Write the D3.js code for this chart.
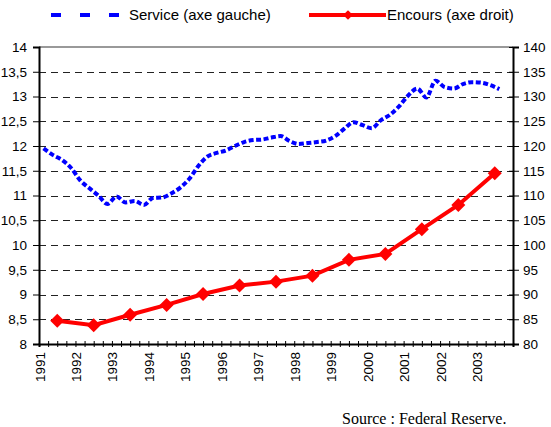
<!DOCTYPE html>
<html lang="fr">
<head>
<meta charset="utf-8">
<title>Service et encours</title>
<script src="https://cdn.jsdelivr.net/npm/d3@7"></script>
<style>
  body { margin: 0; background: #fff; }
  svg { font-family: "Liberation Sans", Arial, sans-serif; }
  .grid line { stroke: #222; stroke-width: 1px; stroke-dasharray: 7,5; }
  .axis text { font-size: 13.5px; fill: #000; }
</style>
</head>
<body>
<svg width="551" height="427"></svg>
<script>
// service de la dette (axe gauche), trimestriel 1991T1 -> 2003T3
var service = [11.95, 11.82, 11.72, 11.56, 11.31, 11.15, 11.00, 10.83, 10.98, 10.86,
  10.89, 10.81, 10.95, 10.96, 11.04, 11.16, 11.34, 11.60, 11.79, 11.86,
  11.91, 12.00, 12.08, 12.12, 12.13, 12.17, 12.20, 12.10, 12.04, 12.06,
  12.08, 12.11, 12.20, 12.35, 12.48, 12.42, 12.36, 12.52, 12.63, 12.80,
  13.02, 13.16, 12.98, 13.32, 13.19, 13.16, 13.25, 13.29, 13.28, 13.23, 13.15];
// encours (axe droit), annuel
var years = [1991, 1992, 1993, 1994, 1995, 1996, 1997, 1998, 1999, 2000, 2001, 2002, 2003];
var encours = [84.7, 83.8, 85.9, 87.9, 90.1, 91.8, 92.6, 93.8, 97.0, 98.2, 103.2, 108.1, 114.5];
var leftTicks = [8, 8.5, 9, 9.5, 10, 10.5, 11, 11.5, 12, 12.5, 13, 13.5, 14];
var rightTicks = [80, 85, 90, 95, 100, 105, 110, 115, 120, 125, 130, 135, 140];

var svg = d3.select("svg");
var pLeft = 39, pRight = 513, pTop = 47, pBottom = 344;

var x = d3.scaleLinear().domain([1991, 2004]).range([pLeft, pRight]);
var yL = d3.scaleLinear().domain([8, 14]).range([pBottom, pTop]);
var yR = d3.scaleLinear().domain([80, 140]).range([pBottom, pTop]);
var fmt = function(d) { return String(d).replace(".", ","); };

// gridlines
svg.append("g").attr("class", "grid")
  .selectAll("line")
  .data(leftTicks.filter(function(d) { return d > 8 && d < 14; }))
  .enter().append("line")
  .attr("x1", pLeft).attr("x2", pRight)
  .attr("y1", function(d) { return Math.round(yL(d)) + 0.5; })
  .attr("y2", function(d) { return Math.round(yL(d)) + 0.5; });

svg.append("line")
  .attr("x1", pLeft).attr("x2", pRight)
  .attr("y1", yL(14)).attr("y2", yL(14))
  .attr("stroke", "#999").attr("stroke-width", 2);

// axes
var axL = svg.append("g").attr("class", "axis")
  .attr("transform", "translate(" + pLeft + ",0)")
  .call(d3.axisLeft(yL).tickValues(leftTicks).tickFormat(fmt).tickSize(6).tickPadding(6));
var axR = svg.append("g").attr("class", "axis")
  .attr("transform", "translate(" + pRight + ",0)")
  .call(d3.axisRight(yR).tickValues(rightTicks).tickSize(6).tickPadding(4));
axR.selectAll(".tick line").attr("x1", -4);

var quarters = d3.range(0, 53).map(function(k) { return 1991 + k / 4; });
var axB = svg.append("g").attr("class", "axis")
  .attr("transform", "translate(0," + pBottom + ")")
  .call(d3.axisBottom(x).tickValues(quarters).tickSize(3).tickFormat(""));
axB.selectAll(".tick line").attr("y1", -3);

[axL, axR, axB].forEach(function(a) {
  a.select(".domain").attr("stroke", "#000").attr("stroke-width", 2);
  a.selectAll(".tick line").attr("stroke", "#000");
});

// year labels
svg.append("g").attr("class", "axis")
  .selectAll("text")
  .data(years)
  .enter().append("text")
  .attr("transform", function(d) { return "translate(" + (x(d) + 2) + "," + (pBottom + 8) + ") rotate(-90)"; })
  .attr("text-anchor", "end")
  .attr("dominant-baseline", "middle")
  .text(function(d) { return d; });

// series
var serviceLine = d3.line()
  .x(function(d, i) { return x(1991 + (i + 0.5) / 4); })
  .y(function(d) { return yL(d); })
  .curve(d3.curveMonotoneX);

svg.append("path")
  .datum(service)
  .attr("d", serviceLine)
  .attr("fill", "none")
  .attr("stroke", "#0000ff")
  .attr("stroke-width", 4)
  .attr("stroke-dasharray", "5,2.5");

var encoursLine = d3.line()
  .x(function(d, i) { return x(years[i] + 0.5); })
  .y(function(d) { return yR(d); });

svg.append("path")
  .datum(encours)
  .attr("d", encoursLine)
  .attr("fill", "none")
  .attr("stroke", "#ff0000")
  .attr("stroke-width", 4);

var diamond = d3.symbol().type(d3.symbolDiamond2).size(125);
svg.append("g").selectAll("path")
  .data(encours)
  .enter().append("path")
  .attr("d", diamond)
  .attr("fill", "#ff0000")
  .attr("transform", function(d, i) { return "translate(" + x(years[i] + 0.5) + "," + yR(d) + ")"; });

// legend
var lg = svg.append("g").style("font-size", "15px");
lg.append("line")
  .attr("x1", 51).attr("x2", 121).attr("y1", 15).attr("y2", 15)
  .attr("stroke", "#0000ff").attr("stroke-width", 4)
  .attr("stroke-dasharray", "10,19");
lg.append("text").attr("x", 129).attr("y", 20).text("Service (axe gauche)");
lg.append("line")
  .attr("x1", 309).attr("x2", 386).attr("y1", 15).attr("y2", 15)
  .attr("stroke", "#ff0000").attr("stroke-width", 4);
lg.append("path")
  .attr("d", d3.symbol().type(d3.symbolDiamond2).size(60))
  .attr("fill", "#ff0000")
  .attr("transform", "translate(348,15)");
lg.append("text").attr("x", 387).attr("y", 20).text("Encours (axe droit)");

svg.append("text")
  .attr("x", 342).attr("y", 424)
  .style("font-family", "'Liberation Serif', 'Times New Roman', serif")
  .style("font-size", "16px")
  .text("Source : Federal Reserve.");
</script>
</body>
</html>
